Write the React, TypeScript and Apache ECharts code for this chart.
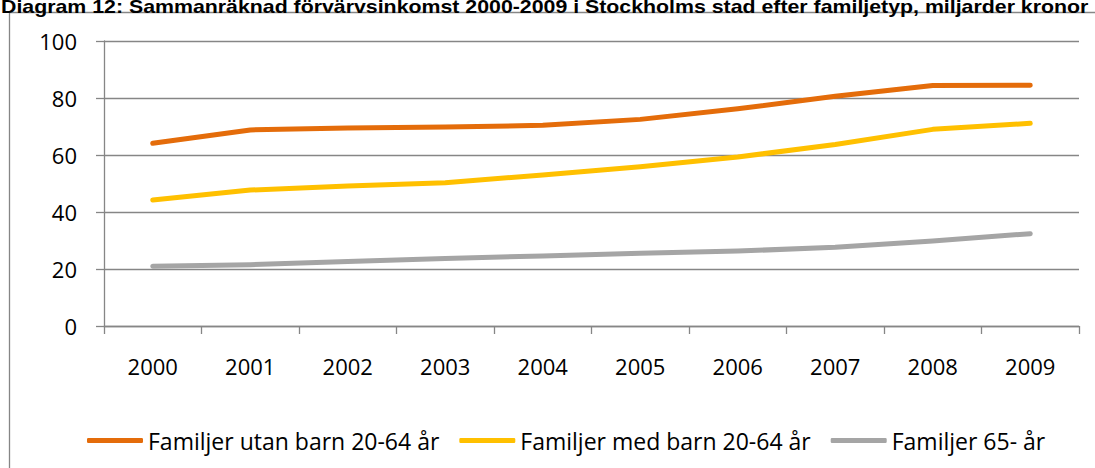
import React, { useEffect, useRef } from "react";
import * as echarts from "echarts";

const titleText =
  "Diagram 12: Sammanräknad förvärvsinkomst 2000-2009 i Stockholms stad efter familjetyp, miljarder kronor";
const years = ["2000", "2001", "2002", "2003", "2004", "2005", "2006", "2007", "2008", "2009"];
const seriesNames = [
  "Familjer utan barn 20-64 år",
  "Familjer med barn 20-64 år",
  "Familjer 65- år",
];
const utanBarn = [64.1, 68.8, 69.5, 69.8, 70.4, 72.5, 76.2, 80.6, 84.4, 84.5];
const medBarn = [44.2, 47.7, 49.1, 50.3, 53.0, 55.9, 59.3, 63.7, 69.0, 71.1];
const aldre = [21.0, 21.5, 22.6, 23.7, 24.6, 25.5, 26.3, 27.6, 29.8, 32.4];
const colors = ["#E46C0A", "#FFC000", "#A5A5A5"];

const FONT = "'Open Sans', 'Noto Sans', sans-serif";

export default function App() {
  const ref = useRef<HTMLDivElement>(null);
  useEffect(() => {
    if (!ref.current) return;
    const chart = echarts.init(ref.current, undefined, { renderer: "svg" });
    const data = [utanBarn, medBarn, aldre];
    chart.setOption({
      animation: false,
      backgroundColor: "#ffffff",
      graphic: [
        {
          type: "rect",
          shape: { x: 9.5, y: 12.5, width: 1100, height: 480 },
          style: { fill: "none", stroke: "#868686", lineWidth: 1.3 },
          silent: true,
        },
        {
          type: "text",
          x: 1,
          y: -2,
          scaleX: 1.185,
          style: {
            text: titleText,
            font: "bold 18px 'Liberation Sans', Arial, sans-serif",
            fill: "#000",
            textVerticalAlign: "top",
          },
        },
      ],
      grid: { left: 104, right: 16, top: 41, bottom: 142, containLabel: false },
      legend: {
        left: 82,
        top: 424,
        icon: "roundRect",
        itemWidth: 56,
        itemHeight: 5,
        itemGap: 20,
        textStyle: { fontFamily: FONT, fontSize: 23, color: "#000" },
        data: seriesNames,
      },
      xAxis: {
        type: "category",
        data: years,
        boundaryGap: true,
        axisLine: { show: true, lineStyle: { color: "#868686", width: 1.3 } },
        axisTick: { show: true, length: 8, alignWithLabel: false, lineStyle: { color: "#868686", width: 1.3 } },
        axisLabel: { fontFamily: FONT, fontSize: 22, color: "#000", margin: 29 },
        splitLine: { show: false },
      },
      yAxis: {
        type: "value",
        min: 0,
        max: 100,
        interval: 20,
        axisLine: { show: true, lineStyle: { color: "#868686", width: 1.3 } },
        axisTick: { show: true, length: 8, lineStyle: { color: "#868686", width: 1.3 } },
        axisLabel: { fontFamily: FONT, fontSize: 22, color: "#000", margin: 27 },
        splitLine: { show: true, lineStyle: { color: "#868686", width: 1.3 } },
      },
      series: seriesNames.map((name, i) => ({
        name,
        type: "line",
        data: data[i],
        symbol: "none",
        smooth: false,
        lineStyle: { color: colors[i], width: 5, cap: "round", join: "round" },
        itemStyle: { color: colors[i] },
      })),
    });
    return () => chart.dispose();
  }, []);
  return (
    <div
      ref={ref}
      style={{ position: "fixed", left: 0, top: 0, width: 1095, height: 468 }}
    />
  );
}
